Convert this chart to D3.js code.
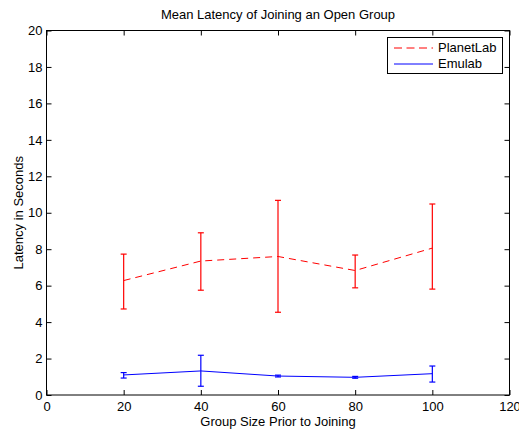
<!DOCTYPE html>
<html><head><meta charset="utf-8">
<script src="https://cdn.jsdelivr.net/npm/d3@7"></script>
<style>body{margin:0;background:#fff}svg{display:block}text{font-family:"Liberation Sans",Arial,sans-serif}</style>
</head><body>
<svg id="c" width="519" height="431"></svg>
<script>
const groupSizes = [20, 40, 60, 80, 100];
const planetMean = [6.28, 7.35, 7.6, 6.83, 8.06];
const planetLow  = [4.72, 5.75, 4.54, 5.88, 5.81];
const planetHigh = [7.73, 8.9, 10.68, 7.68, 10.48];
const emuMean = [1.1, 1.32, 1.04, 0.97, 1.17];
const emuLow  = [0.93, 0.48, 0.99, 0.92, 0.71];
const emuHigh = [1.23, 2.18, 1.09, 1.02, 1.59];
const xTicks = [0, 20, 40, 60, 80, 100, 120];
const yTicks = [0, 2, 4, 6, 8, 10, 12, 14, 16, 18, 20];

const svg = d3.select("#c");
const L = 46.5, R = 509.5, T = 30.5, B = 395;
const x = d3.scaleLinear().domain([0, 120]).range([L, R]);
const y = d3.scaleLinear().domain([0, 20]).range([B, T]);

const fs = "13px";
svg.append("g").attr("transform", `translate(0,${B})`)
  .call(d3.axisBottom(x).tickValues(xTicks).tickSizeInner(-5).tickSizeOuter(0).tickPadding(7))
  .call(g => { g.select(".domain").remove(); g.selectAll("text").style("font-size", fs).attr("fill", "#000"); });
svg.append("g").attr("transform", `translate(0,${T})`)
  .call(d3.axisTop(x).tickValues(xTicks).tickSizeInner(-5).tickSizeOuter(0).tickFormat(""))
  .call(g => g.select(".domain").remove());
svg.append("g").attr("transform", `translate(${L},0)`)
  .call(d3.axisLeft(y).tickValues(yTicks).tickSizeInner(-5).tickSizeOuter(0).tickPadding(4))
  .call(g => { g.select(".domain").remove(); g.selectAll("text").style("font-size", fs).attr("fill", "#000"); });
svg.append("g").attr("transform", `translate(${R},0)`)
  .call(d3.axisRight(y).tickValues(yTicks).tickSizeInner(-5).tickSizeOuter(0).tickFormat(""))
  .call(g => g.select(".domain").remove());
svg.append("rect").attr("x", L).attr("y", T).attr("width", R - L).attr("height", B - T)
  .attr("fill", "none").attr("stroke", "#000").attr("stroke-width", 1);

function series(mean, lo, hi, color, dash) {
  const pts = groupSizes.map((g, i) => [g, mean[i]]);
  svg.append("path").datum(pts)
    .attr("d", d3.line().x(d => x(d[0])).y(d => y(d[1])))
    .attr("fill", "none").attr("stroke", color).attr("stroke-width", 1)
    .attr("stroke-dasharray", dash);
  const g = svg.append("g").attr("stroke", color).attr("stroke-width", 1.2);
  groupSizes.forEach((s, i) => {
    const cx = x(s);
    g.append("line").attr("x1", cx).attr("x2", cx).attr("y1", y(lo[i])).attr("y2", y(hi[i]));
    g.append("line").attr("x1", cx - 3).attr("x2", cx + 3).attr("y1", y(lo[i])).attr("y2", y(lo[i]));
    g.append("line").attr("x1", cx - 3).attr("x2", cx + 3).attr("y1", y(hi[i])).attr("y2", y(hi[i]));
  });
}
series(planetMean, planetLow, planetHigh, "#ff0000", "7,5");
series(emuMean, emuLow, emuHigh, "#0000ff", null);

// legend
const lg = svg.append("g");
lg.append("rect").attr("x", 387.5).attr("y", 37.5).attr("width", 115).attr("height", 36)
  .attr("fill", "#fff").attr("stroke", "#000").attr("stroke-width", 1);
lg.append("path").attr("d", "M394,48H433")
  .attr("fill", "none").attr("stroke", "#ff0000").attr("stroke-width", 1).attr("stroke-dasharray", "8,4.5");
lg.append("path").attr("d", "M394,64H433")
  .attr("fill", "none").attr("stroke", "#0000ff").attr("stroke-width", 1);
lg.append("text").attr("x", 438).attr("y", 52).style("font-size", "13px").text("PlanetLab");
lg.append("text").attr("x", 438).attr("y", 68).style("font-size", "13px").text("Emulab");

svg.append("text").attr("x", (L + R) / 2).attr("y", 19).attr("text-anchor", "middle")
  .style("font-size", "13px").text("Mean Latency of Joining an Open Group");
svg.append("text").attr("x", (L + R) / 2).attr("y", 426).attr("text-anchor", "middle")
  .style("font-size", "13px").text("Group Size Prior to Joining");
svg.append("text").attr("transform", `translate(23,${(T + B) / 2}) rotate(-90)`)
  .attr("text-anchor", "middle").style("font-size", "13px").text("Latency in Seconds");
</script>
</body></html>
